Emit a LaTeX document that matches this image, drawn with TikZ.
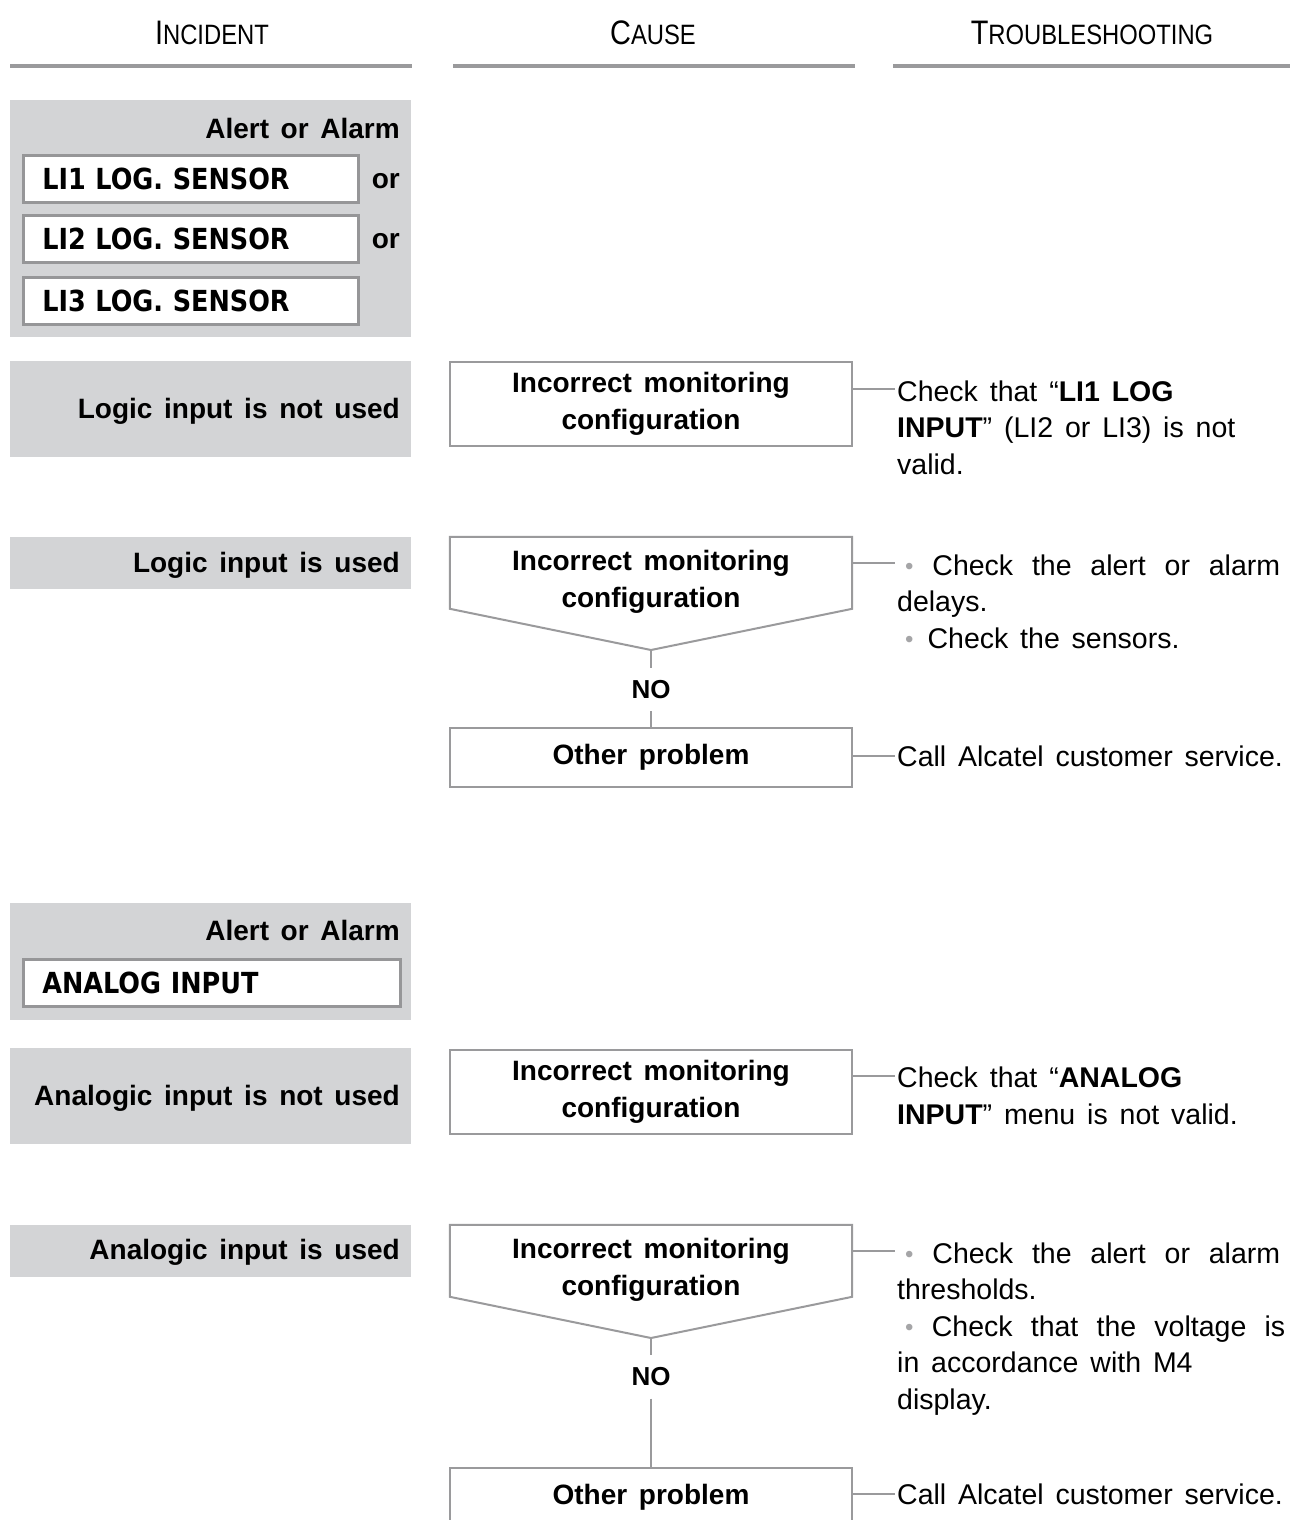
\documentclass[tikz,border=0pt]{standalone}
\usepackage{fontspec}
\usepackage{graphicx}
\setmainfont{Liberation Sans}[WordSpace=1.5]
\newfontfamily\hdfont{Liberation Sans}[FakeStretch=0.85]
\newfontfamily\lcdfont{DejaVu Sans}[FakeStretch=0.88,WordSpace=1.8]
\usetikzlibrary{calc}
\definecolor{panelgray}{RGB}{211,212,214}
\definecolor{linegray}{RGB}{154,154,156}
\definecolor{boxgray}{RGB}{150,150,152}
\definecolor{bulgray}{RGB}{165,165,167}
\newcommand\bodyfs{\fontsize{28.5}{36.5}\selectfont}
\newcommand\boldfs{\fontsize{28}{37}\selectfont\bfseries}
\newcommand\nofs{\fontsize{26}{26}\selectfont\bfseries}
\newcommand\lcdfs{\lcdfont\bfseries\fontsize{29}{30}\selectfont}
\newcommand\hdrtext[2]{{\hdfont\fontsize{34}{34}\selectfont #1\fontsize{28}{28}\selectfont #2}}
\newcommand\bul{\hspace*{8pt}\textcolor{bulgray}{\raisebox{1pt}{\fontsize{24}{24}\selectfont •}}}
\begin{document}
\begin{tikzpicture}[x=1pt,y=-1pt,
  panel/.style={fill=panelgray, inner sep=0, anchor=north west, minimum width=401},
  lbl/.style={anchor=base east, inner sep=0, font=\boldfs},
  lcdbox/.style={draw=boxgray, line width=2.5pt, fill=white, anchor=north west, inner ysep=0, inner xsep=19pt, minimum height=47, font=\lcdfs, align=left},
  cbox/.style={draw=linegray, line width=2pt, minimum width=402, inner sep=0, align=center, font=\boldfs},
  ptext/.style={minimum width=402, inner sep=0, align=center, font=\boldfs},
  conn/.style={draw=linegray, line width=2pt},
  tstext/.style={anchor=base west, inner sep=0, align=left, font=\bodyfs},
  hdr/.style={anchor=base, inner sep=0},
  hrule/.style={draw=linegray, line width=4pt},
  nolbl/.style={inner sep=0, minimum height=43, font=\nofs}]
\useasboundingbox (0,0) rectangle (1290,1520);
\clip (0,0) rectangle (1290,1520);
\fill[white] (0,0) rectangle (1290,1520);

% headers
\node[hdr] (h1) at (212,45) {\hdrtext{I}{NCIDENT}};
\node[hdr] (h2) at (653,45) {\hdrtext{C}{AUSE}};
\node[hdr] (h3) at (1092,45) {\hdrtext{T}{ROUBLESHOOTING}};
\draw[hrule] (10,66) -- (412,66);
\draw[hrule] (453,66) -- (855,66);
\draw[hrule] (893,66) -- (1290,66);

% ---------- logic input section ----------
\node[panel, minimum height=237] (pan1) at (10,100) {};
\node[lbl] (alert1) at (400,138) {Alert or Alarm};
\node[lcdbox, text width=297pt] (li1) at (22,154) {LI1 LOG. SENSOR};
\node[lcdbox, text width=297pt] (li2) at (22,214) {LI2 LOG. SENSOR};
\node[lcdbox, text width=297pt] (li3) at (22,276) {LI3 LOG. SENSOR};
\node[lbl] (or1) at (400,188) {or};
\node[lbl] (or2) at (400,248) {or};

\node[panel, minimum height=96] (pan2) at (10,361) {};
\node[lbl] (l2) at (400,418) {Logic input is not used};
\node[panel, minimum height=52] (pan3) at (10,537) {};
\node[lbl] (l3) at (400,572) {Logic input is used};

\node[cbox, minimum height=84] (c1) at (651,404) {Incorrect monitoring\\configuration};
\node[ptext, minimum height=90] (p1) at (651,582) {Incorrect monitoring\\configuration};
\coordinate (tip1) at (651,650);
\draw[conn, line join=miter] (p1.north west) -- (p1.north east) -- ($(p1.north east)+(0,72)$) -- (tip1) -- ($(p1.north west)+(0,72)$) -- cycle;
\node[nolbl] (no1) at (651,689.5) {NO};
\node[cbox, minimum height=59] (o1) at (651,757) {Other problem};
\draw[conn] (tip1) -- (no1.north);
\draw[conn] (no1.south) -- (o1.north);

% anchors are at the baseline of the LAST line of each block
\node[tstext] (tA) at (897,474) {Check that “\textbf{LI1 LOG}\\\textbf{INPUT}” (LI2 or LI3) is not\\valid.};
\node[tstext] (tB) at (897,648) {\makebox[383pt][s]{\bul\ Check the alert or alarm}\\delays.\\\bul\hspace{14pt}Check the sensors.};
\node[tstext] (tC) at (897,766) {Call Alcatel customer service.};
\coordinate (aA) at (895,389);
\coordinate (aB) at (895,563);
\coordinate (aC) at (895,756);
\draw[conn] (c1.east |- aA) -- (aA);
\draw[conn] (p1.east |- aB) -- (aB);
\draw[conn] (o1.east |- aC) -- (aC);

% ---------- analog input section ----------
\node[panel, minimum height=117] (pan4) at (10,903) {};
\node[lbl] (alert2) at (400,940) {Alert or Alarm};
\node[lcdbox, text width=339pt] (ai) at (22,958) {ANALOG INPUT};

\node[panel, minimum height=96] (pan5) at (10,1048) {};
\node[lbl] (l5) at (400,1105) {Analogic input is not used};
\node[panel, minimum height=52] (pan6) at (10,1225) {};
\node[lbl] (l6) at (400,1259) {Analogic input is used};

\node[cbox, minimum height=84] (c2) at (651,1092) {Incorrect monitoring\\configuration};
\node[ptext, minimum height=90] (p2) at (651,1270) {Incorrect monitoring\\configuration};
\coordinate (tip2) at (651,1338);
\draw[conn, line join=miter] (p2.north west) -- (p2.north east) -- ($(p2.north east)+(0,72)$) -- (tip2) -- ($(p2.north west)+(0,72)$) -- cycle;
\node[nolbl] (no2) at (651,1377) {NO};
\node[cbox, minimum height=59] (o2) at (651,1497) {Other problem};
\draw[conn] (tip2) -- (no2.north);
\draw[conn] (no2.south) -- (o2.north);

\node[tstext] (tD) at (897,1124) {Check that “\textbf{ANALOG}\\\textbf{INPUT}” menu is not valid.};
\node[tstext] (tE) at (897,1409) {\makebox[383pt][s]{\bul\ Check the alert or alarm}\\thresholds.\\\makebox[388pt][s]{\bul\ Check that the voltage is}\\in accordance with M4\\display.};
\node[tstext] (tF) at (897,1504) {Call Alcatel customer service.};
\coordinate (aD) at (895,1076);
\coordinate (aE) at (895,1251);
\coordinate (aF) at (895,1494);
\draw[conn] (c2.east |- aD) -- (aD);
\draw[conn] (p2.east |- aE) -- (aE);
\draw[conn] (o2.east |- aF) -- (aF);
\end{tikzpicture}
\end{document}
